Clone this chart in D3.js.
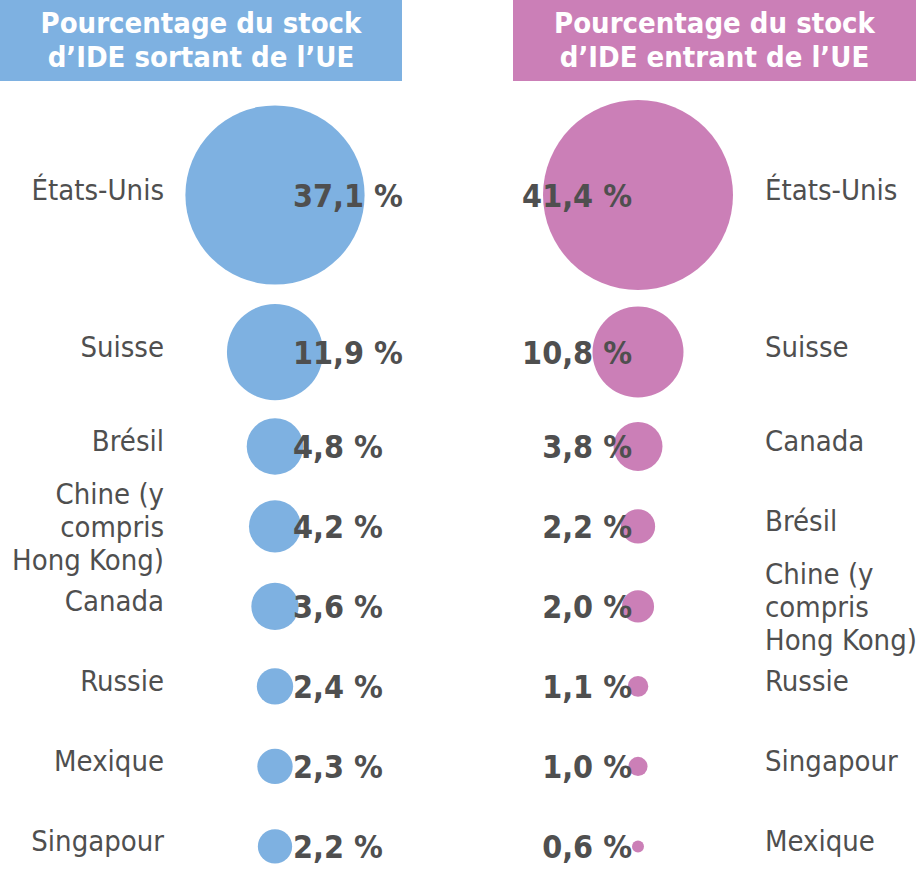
<!DOCTYPE html>
<html>
<head>
<meta charset="utf-8">
<script src="https://cdn.jsdelivr.net/npm/d3@7"></script>
<style>
  body { margin: 0; background: #fff; }
  text { font-family: "DejaVu Sans Condensed", "Liberation Sans Narrow", "DejaVu Sans", sans-serif; font-stretch: condensed; }
</style>
</head>
<body>
<div id="chart"></div>
<script>
// data
const titles = ["Pourcentage du stock\nd’IDE sortant de l’UE", "Pourcentage du stock\nd’IDE entrant de l’UE"];
const outCountries = ["États-Unis", "Suisse", "Brésil", "Chine (y\ncompris\nHong Kong)", "Canada", "Russie", "Mexique", "Singapour"];
const outValues = [37.1, 11.9, 4.8, 4.2, 3.6, 2.4, 2.3, 2.2];
const inCountries = ["États-Unis", "Suisse", "Canada", "Brésil", "Chine (y\ncompris\nHong Kong)", "Russie", "Singapour", "Mexique"];
const inValues = [41.4, 10.8, 3.8, 2.2, 2.0, 1.1, 1.0, 0.6];

const width = 919, height = 871;
const blue = "#7eb1e1", pink = "#cb7fb7", grey = "#4f4f4f";

let svg = d3.select("#chart").append("svg")
    .attr("width", width)
    .attr("height", height);

// circle size: area-ish scale over all values
let allValues = outValues.concat(inValues);
let r = d3.scaleSqrt()
    .domain(d3.extent(allValues))
    .range([6, 95]);

// rows are stacked so the biggest circles of two rows don't touch
let headerH = 81, gap = 14, minStep = 80;
let rowY = [];
outValues.forEach(function (d, i) {
    let rr = Math.max(r(outValues[i]), r(inValues[i]));
    if (i === 0) {
        rowY.push(headerH + 19 + rr);
    } else {
        let prev = Math.max(r(outValues[i - 1]), r(inValues[i - 1]));
        rowY.push(rowY[i - 1] + Math.max(minStep, prev + rr + gap + (i === 2 ? 4 : 0)));
    }
});

let fmt = function (v) { return d3.format(".1f")(v).replace(".", ",") + " %"; };

let columns = [
    { title: titles[0], color: blue, countries: outCountries, values: outValues,
      boxX: 0, boxW: 402, cx: 275, labelX: 164, labelAnchor: "end", valueDx: 18, valueAnchor: "start" },
    { title: titles[1], color: pink, countries: inCountries, values: inValues,
      boxX: 513, boxW: 403, cx: 638, labelX: 765, labelAnchor: "start", valueDx: -6, valueAnchor: "end" }
];

columns.forEach(function (col) {
    let g = svg.append("g");

    // header box
    g.append("rect")
        .attr("x", col.boxX)
        .attr("y", 0)
        .attr("width", col.boxW)
        .attr("height", headerH)
        .style("fill", col.color);

    let title = g.append("text")
        .attr("text-anchor", "middle")
        .style("font-size", "29px")
        .style("font-weight", "bold")
        .style("fill", "#fff");
    col.title.split("\n").forEach(function (line, i) {
        title.append("tspan")
            .attr("x", col.boxX + col.boxW / 2)
            .attr("y", 33 + i * 34)
            .text(line);
    });

    let rows = col.values.map(function (v, i) { return { v: v, name: col.countries[i], y: rowY[i] }; });

    // circles
    g.selectAll(".bubble")
        .data(rows)
        .enter()
        .append("circle")
        .attr("class", "bubble")
        .attr("cx", col.cx)
        .attr("cy", function (d) { return d.y; })
        .attr("r", function (d) { return r(d.v); })
        .style("fill", col.color);

    // value labels on top of the circles
    g.selectAll(".value")
        .data(rows)
        .enter()
        .append("text")
        .attr("class", "value")
        .attr("x", col.cx + col.valueDx)
        .attr("y", function (d) { return d.y + 12; })
        .attr("text-anchor", col.valueAnchor)
        .style("font-size", "32px")
        .style("font-weight", "bold")
        .style("fill", grey)
        .text(function (d) { return fmt(d.v); });

    // country names, some on three lines
    let names = g.selectAll(".country")
        .data(rows)
        .enter()
        .append("text")
        .attr("class", "country")
        .attr("text-anchor", col.labelAnchor)
        .style("font-size", "29px")
        .style("fill", grey);
    names.each(function (d) {
        let lines = d.name.split("\n");
        let first = d.y + 5 - (lines.length - 1) * 33 / 2 + (lines.length > 1 ? 6 : 0);
        let t = d3.select(this);
        lines.forEach(function (line, i) {
            t.append("tspan")
                .attr("x", col.labelX)
                .attr("y", first + i * 33)
                .text(line);
        });
    });
});
</script>
</body>
</html>
